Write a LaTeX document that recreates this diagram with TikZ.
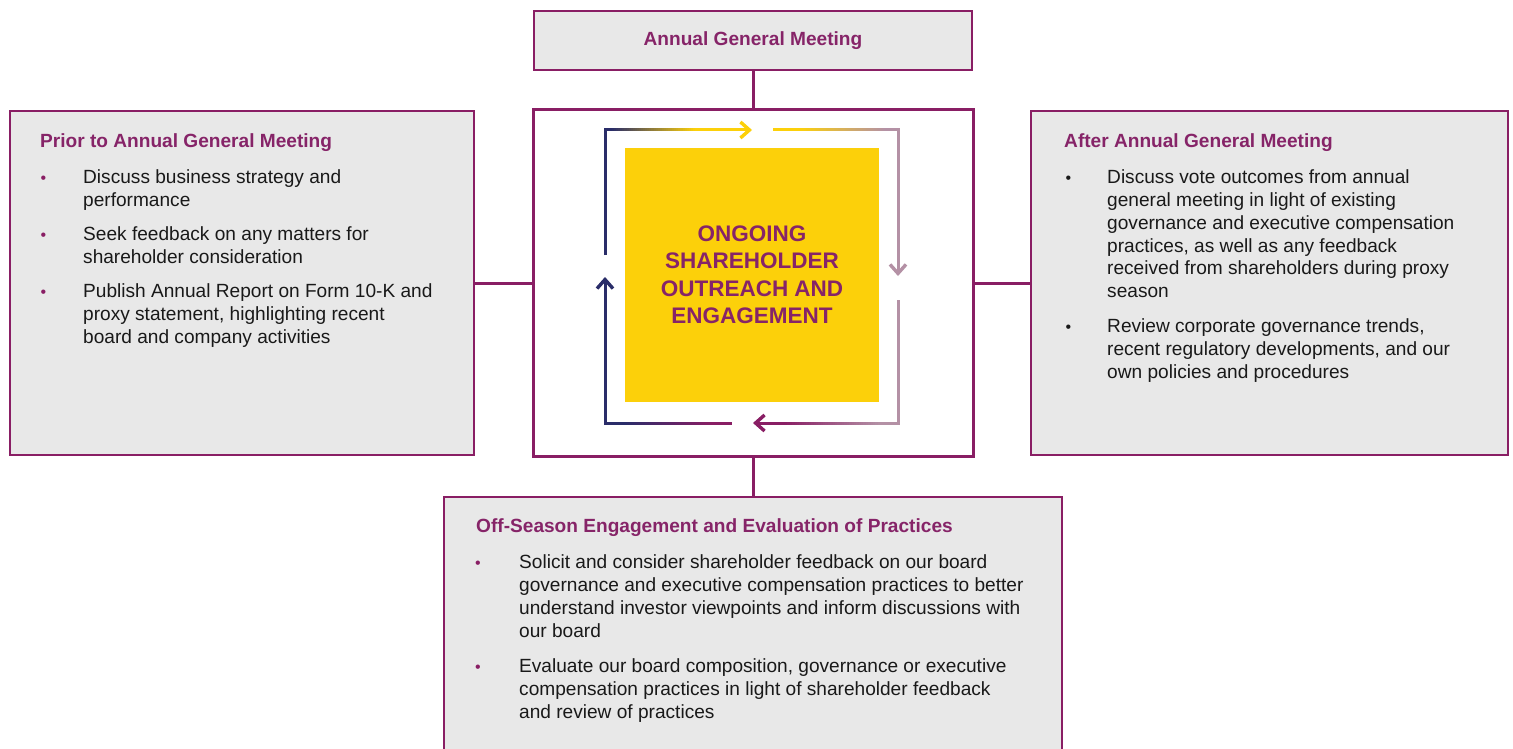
\documentclass[tikz,border=0pt]{standalone}
\usepackage{fontspec}
\setmainfont{Liberation Sans}
\usetikzlibrary{arrows.meta}
\definecolor{plum}{RGB}{137,30,100}
\definecolor{plumtext}{RGB}{134,36,104}
\definecolor{boxgray}{RGB}{232,232,232}
\definecolor{sunny}{RGB}{252,208,10}
\definecolor{navy}{RGB}{42,45,105}
\definecolor{mauve}{RGB}{180,145,165}
\definecolor{bodytext}{RGB}{25,25,25}
\newcommand{\itemlines}[1]{\parbox[t]{600pt}{\raggedright #1}}
% horizontal gradient bar: x-start, x-end, y, colour at start, colour at end
\newcommand{\gradbar}[5]{%
  \foreach \k in {0,...,39}{%
    \pgfmathsetmacro{\xa}{#1+(#2-#1)*\k/40}%
    \pgfmathsetmacro{\xb}{#1+(#2-#1)*(\k+1)/40}%
    \pgfmathsetmacro{\pc}{100-2.5*\k-1.25}%
    \fill[#4!\pc!#5] (\xa,#3-1.5) rectangle (\xb,#3+1.5);
  }}
\begin{document}
\begin{tikzpicture}[x=1pt,y=-1pt,
  panel/.style={draw=plum, line width=2.2pt, fill=boxgray, inner sep=0pt, outer sep=0pt},
  hubbox/.style={draw=plum, line width=3pt, fill=white, inner sep=0pt, outer sep=0pt},
  link/.style={draw=plum, line width=3pt},
  ttl/.style={font=\fontsize{19.1}{23}\selectfont\bfseries, text=plumtext, anchor=base west, inner sep=0pt},
  itm/.style={font=\fontsize{19.1}{23}\selectfont, text=bodytext, anchor=base west, inner sep=0pt},
  dot/.style={font=\fontsize{16}{18}\selectfont, anchor=base west, inner sep=0pt},
  loopline/.style={line width=3pt},
  tip/.style={-{Straight Barb[length=9pt,width=16pt,line width=3.4pt]}}
]
\useasboundingbox (0,0) rectangle (1513,749);
\clip (0,0) rectangle (1513,749);

% boxes
\node[panel, minimum width=438pt, minimum height=59pt,
      font=\fontsize{19.1}{23}\selectfont\bfseries, text=plumtext] (agm) at (753,40.5) {Annual General Meeting};
\node[hubbox, minimum width=440pt, minimum height=346pt] (hub) at (753,283) {};
\node[panel, minimum width=464pt, minimum height=344pt] (prior) at (242,283) {};
\node[panel, minimum width=477pt, minimum height=344pt] (after) at (1269.5,283) {};
\node[panel, minimum width=618pt, minimum height=273pt] (off) at (753,633.5) {};

% connectors
\draw[link] (agm.south) -- (hub.north);
\draw[link] (prior.east) -- (hub.west);
\draw[link] (hub.east) -- (after.west);
\draw[link] (hub.south) -- (off.north);

% central square
\node[fill=sunny, minimum size=254pt, inner sep=0pt, align=center,
      font=\fontsize{22.5}{27.5}\selectfont\bfseries, text=plumtext] (core) at (752,275)
  {ONGOING\\SHAREHOLDER\\OUTREACH AND\\ENGAGEMENT};

% cycle arrows
\coordinate (c1) at (605,130);
\coordinate (c2) at (898,130);
\coordinate (c3) at (898,423);
\coordinate (c4) at (605,423);
% top-left
\draw[navy, loopline] (605,255) -- ([yshift=1.5pt]c1);
\fill[navy] (603.5,128.5) rectangle (612,131.5);
\gradbar{612}{695}{130}{navy}{sunny}
\fill[sunny] (695,128.5) rectangle (740,131.5);
\draw[sunny, loopline, tip] (739,130) -- (752,130);
% top-right
\fill[sunny] (773,128.5) rectangle (800,131.5);
\gradbar{800}{885}{130}{sunny}{mauve}
\fill[mauve] (885,128.5) rectangle (899.5,131.5);
\draw[mauve, loopline, tip] (c2) -- (898,276);
% bottom-right
\draw[mauve, loopline] (898,300) -- ([yshift=-1.5pt]c3);
\fill[mauve] (880,421.5) rectangle (899.5,424.5);
\gradbar{880}{785}{423}{mauve}{plum}
\fill[plum] (766,421.5) rectangle (785,424.5);
\draw[plum, loopline, tip] (767,423) -- (753,423);
% bottom-left
\fill[navy] (603.5,421.5) rectangle (625,424.5);
\gradbar{625}{712}{423}{navy}{plum}
\fill[plum] (712,421.5) rectangle (732,424.5);
\draw[navy, loopline, tip] (c4) -- (605,277);

% left panel text
\node[ttl] (pt) at (40,148) {Prior to Annual General Meeting};
\node[dot, text=plum] (pb1) at (40.5,183) {•};
\node[itm] (pi1) at (83,183) {\itemlines{Discuss business strategy and\\performance}};
\node[dot, text=plum] (pb2) at (40.5,240) {•};
\node[itm] (pi2) at (83,240) {\itemlines{Seek feedback on any matters for\\shareholder consideration}};
\node[dot, text=plum] (pb3) at (40.5,297) {•};
\node[itm] (pi3) at (83,297) {\itemlines{Publish Annual Report on Form 10-K and\\proxy statement, highlighting recent\\board and company activities}};

% right panel text
\node[ttl] (at) at (1064,148) {After Annual General Meeting};
\node[dot, text=bodytext] (ab1) at (1065.5,183) {•};
\node[itm] (ai1) at (1107,183) {\itemlines{Discuss vote outcomes from annual\\general meeting in light of existing\\governance and executive compensation\\practices, as well as any feedback\\received from shareholders during proxy\\season}};
\node[dot, text=bodytext] (ab2) at (1065.5,332) {•};
\node[itm] (ai2) at (1107,332) {\itemlines{Review corporate governance trends,\\recent regulatory developments, and our\\own policies and procedures}};

% bottom panel text
\node[ttl] (ot) at (476,532) {Off-Season Engagement and Evaluation of Practices};
\node[dot, text=plum] (ob1) at (475,568) {•};
\node[itm] (oi1) at (519,568) {\itemlines{Solicit and consider shareholder feedback on our board\\governance and executive compensation practices to better\\understand investor viewpoints and inform discussions with\\our board}};
\node[dot, text=plum] (ob2) at (475,672) {•};
\node[itm] (oi2) at (519,672) {\itemlines{Evaluate our board composition, governance or executive\\compensation practices in light of shareholder feedback\\and review of practices}};
\end{tikzpicture}
\end{document}
